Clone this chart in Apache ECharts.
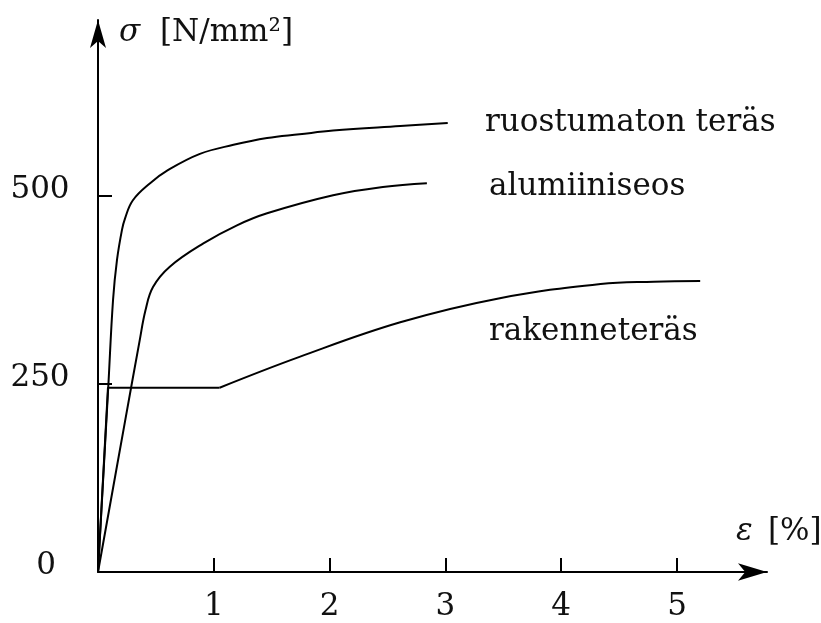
<!DOCTYPE html>
<html>
<head>
<meta charset="utf-8">
<script src="https://cdn.jsdelivr.net/npm/echarts@6/dist/echarts.min.js"></script>
<style>
html,body{margin:0;padding:0;background:#fff;}
#c{width:821px;height:623px;}
</style>
</head>
<body>
<div id="c"></div>
<script>
// strain ε [%], stress σ [N/mm²]
const stainless = [[0,0],[0.09,250],[0.13,362],[0.164,415],[0.207,455],[0.233,470],[0.30,494],[0.45,517],[0.60,534],[0.88,556],[1.17,568],[1.46,577],[1.74,582],[2.03,587],[2.61,593],[3.02,597]];
const aluminium = [[0,0],[0.233,200],[0.36,308],[0.41,348],[0.475,379],[0.62,406],[0.91,437],[1.20,461],[1.46,477],[2.03,501],[2.46,512],[2.84,517]];
const structuralElastic = [[0,0],[0.086,245],[1.05,245]];
const structuralHardening = [[1.05,245],[1.74,286],[2.61,332],[3.47,364],[4.34,383],[4.8,386],[5.2,387]];
const xTicks = [1,2,3,4,5];
const yTicks = [250,500];
const yLabels = [0,250,500];
const names = ['ruostumaton teräs','alumiiniseos','rakenneteräs'];

const FONT = '"DejaVu Serif", serif';
const FS = 31;
const xMax = 5.777, yMax = 734;

const chart = echarts.init(document.getElementById('c'), null, {renderer:'canvas'});
const lineStyle = {color:'#000', width:2};
chart.setOption({
  animation:false,
  grid:{left:98, right:54, top:20, bottom:51},
  xAxis:{
    type:'value', min:0, max:xMax,
    axisLine:{lineStyle:{color:'#000', width:2}, symbol:['none','arrow'], symbolSize:[13,29]},
    axisTick:{inside:true, length:14, lineStyle:{color:'#000', width:2}, customValues:xTicks},
    axisLabel:{customValues:xTicks, margin:19, fontFamily:FONT, fontSize:FS, color:'#111'},
    splitLine:{show:false}
  },
  yAxis:{
    type:'value', min:0, max:yMax,
    axisLine:{show:true, lineStyle:{color:'#000', width:2}, symbol:['none','arrow'], symbolSize:[12,28]},
    axisTick:{show:true, inside:true, length:14, lineStyle:{color:'#000', width:2}, customValues:yTicks},
    axisLabel:{customValues:yLabels, margin:58, align:'center', fontFamily:FONT, fontSize:FS, color:'#111',
      formatter: v => v === 0 ? '{z|0}' : '{n|' + v + '}',
      rich:{z:{padding:[0,0,12,12], fontFamily:FONT, fontSize:FS}, n:{padding:[0,0,12,0], fontFamily:FONT, fontSize:FS}}
    },
    splitLine:{show:false}
  },
  series:[
    {name:names[0], type:'line', data:stainless, showSymbol:false, symbol:'none', smooth:0.4, lineStyle},
    {name:names[1], type:'line', data:aluminium, showSymbol:false, symbol:'none', smooth:0.4, lineStyle},
    {name:names[2], type:'line', data:structuralElastic, showSymbol:false, symbol:'none', smooth:false, lineStyle},
    {name:names[2], type:'line', data:structuralHardening, showSymbol:false, symbol:'none', smooth:0.4, lineStyle}
  ],
  graphic:[
    {type:'text', style:{text:'σ', x:119, y:33, fill:'#111', font:'italic '+FS+'px '+FONT, verticalAlign:'middle', align:'left'}},
    {type:'text', style:{text:'[N/mm²]', x:160, y:33, fill:'#111', font:FS+'px '+FONT, verticalAlign:'middle', align:'left'}},
    {type:'text', style:{text:'ε', x:736, y:532, fill:'#111', font:'italic '+FS+'px '+FONT, verticalAlign:'middle', align:'left'}},
    {type:'text', style:{text:'[%]', x:768, y:532, fill:'#111', font:FS+'px '+FONT, verticalAlign:'middle', align:'left'}},
    {type:'text', style:{text:names[0], x:485, y:123, fill:'#111', font:FS+'px '+FONT, verticalAlign:'middle', align:'left'}},
    {type:'text', style:{text:names[1], x:489, y:187, fill:'#111', font:FS+'px '+FONT, verticalAlign:'middle', align:'left'}},
    {type:'text', style:{text:names[2], x:489, y:332, fill:'#111', font:FS+'px '+FONT, verticalAlign:'middle', align:'left'}}
  ]
});
</script>
</body>
</html>
